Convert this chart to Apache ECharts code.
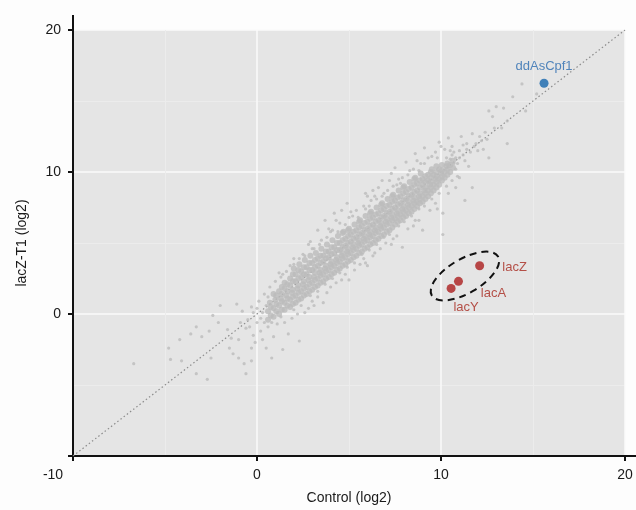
<!DOCTYPE html>
<html>
<head>
<meta charset="utf-8">
<script src="https://cdn.jsdelivr.net/npm/echarts@6/dist/echarts.min.js"></script>
<style>
html, body { margin: 0; padding: 0; background: #fdfdfd; }
#chart { width: 636px; height: 510px; }
</style>
</head>
<body>
<div id="chart"></div>
<script>
// axis range shared by both axes (log2 expression)
var axisMin = -10;
var axisMax = 20;

// dense core of the gene cloud
var coreGenes = [
    [0.6,-0.4],[0.6,0.2],[0.7,0.8],
    [0.9,-0.2],[0.9,0.4],[1.0,1.0],[0.9,1.4],
    [1.2,0.0],[1.2,0.6],[1.3,1.1],[1.2,1.6],
    [1.5,0.3],[1.5,0.8],[1.6,1.3],[1.5,1.8],[1.5,2.2],
    [1.8,0.5],[1.8,1.0],[1.9,1.5],[1.8,2.0],[1.8,2.5],
    [2.1,0.8],[2.1,1.3],[2.2,1.8],[2.1,2.3],[2.1,2.8],[2.0,3.2],
    [2.4,1.1],[2.4,1.6],[2.5,2.1],[2.4,2.6],[2.4,3.0],[2.3,3.5],
    [2.7,1.4],[2.7,1.9],[2.8,2.4],[2.7,2.8],[2.7,3.3],[2.6,3.8],
    [3.0,1.7],[3.0,2.2],[3.1,2.6],[3.0,3.1],[3.0,3.6],[2.9,4.1],
    [3.3,2.0],[3.3,2.5],[3.4,2.9],[3.3,3.4],[3.3,3.9],[3.2,4.3],
    [3.6,2.3],[3.6,2.8],[3.7,3.2],[3.6,3.7],[3.6,4.1],[3.5,4.6],
    [3.9,2.6],[3.9,3.1],[4.0,3.5],[3.9,4.0],[3.9,4.4],[3.8,4.9],
    [4.2,2.9],[4.2,3.4],[4.3,3.8],[4.2,4.3],[4.2,4.7],[4.1,5.2],
    [4.5,3.2],[4.5,3.7],[4.6,4.1],[4.5,4.5],[4.5,5.0],[4.4,5.5],
    [4.8,3.5],[4.8,4.0],[4.9,4.4],[4.8,4.8],[4.8,5.3],[4.7,5.8],
    [5.1,3.8],[5.1,4.3],[5.2,4.7],[5.1,5.1],[5.1,5.6],[5.0,6.0],
    [5.4,4.1],[5.4,4.6],[5.5,5.0],[5.4,5.4],[5.4,5.9],[5.3,6.3],
    [5.7,4.4],[5.7,4.9],[5.8,5.3],[5.7,5.7],[5.7,6.2],[5.6,6.6],
    [6.0,4.7],[6.0,5.2],[6.1,5.6],[6.0,6.0],[6.0,6.5],[5.9,6.9],
    [6.3,5.0],[6.3,5.5],[6.4,5.9],[6.3,6.3],[6.3,6.8],[6.2,7.2],
    [6.6,5.3],[6.6,5.8],[6.7,6.2],[6.6,6.6],[6.6,7.1],[6.5,7.5],
    [6.9,5.6],[6.9,6.1],[7.0,6.5],[6.9,6.9],[6.9,7.4],[6.8,7.8],
    [7.2,5.9],[7.2,6.4],[7.3,6.8],[7.2,7.2],[7.2,7.7],[7.1,8.1],
    [7.5,6.3],[7.5,6.7],[7.6,7.1],[7.5,7.5],[7.5,8.0],[7.4,8.4],
    [7.8,6.6],[7.8,7.0],[7.9,7.4],[7.8,7.8],[7.8,8.3],[7.7,8.7],
    [8.1,6.9],[8.1,7.3],[8.2,7.7],[8.1,8.1],[8.1,8.6],[8.0,9.0],
    [8.4,7.2],[8.4,7.6],[8.5,8.0],[8.4,8.4],[8.4,8.9],[8.3,9.3],
    [8.7,7.6],[8.7,7.9],[8.8,8.3],[8.7,8.7],[8.7,9.2],[8.6,9.6],
    [9.0,7.9],[9.0,8.3],[9.1,8.7],[9.0,9.1],[9.0,9.5],[8.9,9.9],
    [9.3,8.3],[9.3,8.7],[9.4,9.1],[9.3,9.4],[9.3,9.8],
    [9.6,8.7],[9.6,9.1],[9.7,9.5],[9.6,9.8],[9.5,10.2],
    [9.9,9.1],[9.9,9.5],[10.0,9.9],[9.9,10.2],
    [10.2,9.6],[10.2,10.0],[10.3,10.4],
    [10.5,10.0],[10.5,10.5],
    [0.75,-0.1],[0.75,0.5],
    [1.05,0.2],[1.05,0.7],[1.05,1.3],
    [1.35,0.3],[1.35,0.9],[1.35,1.4],[1.35,1.9],
    [1.65,0.6],[1.65,1.1],[1.65,1.6],[1.65,2.1],
    [1.95,0.7],[1.95,1.2],[1.95,1.7],[1.95,2.3],[1.95,2.8],
    [2.25,1.0],[2.25,1.5],[2.25,2.0],[2.25,2.5],[2.25,3.1],
    [2.55,1.3],[2.55,1.8],[2.55,2.3],[2.55,2.8],[2.55,3.3],
    [2.85,1.6],[2.85,2.1],[2.85,2.6],[2.85,3.1],[2.85,3.6],
    [3.15,1.9],[3.15,2.4],[3.15,2.9],[3.15,3.3],[3.15,3.8],
    [3.45,2.2],[3.45,2.7],[3.45,3.1],[3.45,3.6],[3.45,4.1],
    [3.75,2.5],[3.75,3.0],[3.75,3.4],[3.75,3.9],[3.75,4.4],
    [4.05,2.8],[4.05,3.3],[4.05,3.7],[4.05,4.2],[4.05,4.7],
    [4.35,3.1],[4.35,3.6],[4.35,4.0],[4.35,4.5],[4.35,5.0],
    [4.65,3.4],[4.65,3.9],[4.65,4.3],[4.65,4.7],[4.65,5.2],[4.65,5.7],
    [4.95,3.7],[4.95,4.2],[4.95,4.6],[4.95,5.0],[4.95,5.5],[4.95,5.9],
    [5.25,4.0],[5.25,4.5],[5.25,4.9],[5.25,5.3],[5.25,5.8],
    [5.55,4.3],[5.55,4.8],[5.55,5.2],[5.55,5.6],[5.55,6.1],[5.55,6.5],
    [5.85,4.6],[5.85,5.1],[5.85,5.5],[5.85,5.9],[5.85,6.4],
    [6.15,4.9],[6.15,5.4],[6.15,5.8],[6.15,6.2],[6.15,6.7],[6.15,7.1],
    [6.45,5.2],[6.45,5.7],[6.45,6.1],[6.45,6.5],[6.45,7.0],
    [6.75,5.5],[6.75,6.0],[6.75,6.4],[6.75,6.8],[6.75,7.3],[6.75,7.7],
    [7.05,5.8],[7.05,6.3],[7.05,6.7],[7.05,7.1],[7.05,7.6],
    [7.35,6.1],[7.35,6.6],[7.35,7.0],[7.35,7.4],[7.35,7.9],[7.35,8.3],
    [7.65,6.5],[7.65,6.9],[7.65,7.3],[7.65,7.7],[7.65,8.2],
    [7.95,6.8],[7.95,7.2],[7.95,7.6],[7.95,8.0],[7.95,8.5],[7.95,8.9],
    [8.25,7.1],[8.25,7.5],[8.25,7.9],[8.25,8.3],[8.25,8.8],
    [8.55,7.4],[8.55,7.8],[8.55,8.2],[8.55,8.6],[8.55,9.1],[8.55,9.5],
    [8.85,7.8],[8.85,8.1],[8.85,8.5],[8.85,8.9],[8.85,9.4],
    [9.15,8.1],[9.15,8.5],[9.15,8.9],[9.15,9.3],[9.15,9.7],
    [9.45,8.5],[9.45,8.9],[9.45,9.3],[9.45,9.6],[9.45,10.0],
    [9.75,8.9],[9.75,9.3],[9.75,9.7],[9.75,10.0],[9.75,10.4],
    [10.05,9.4],[10.05,9.7],[10.05,10.1],[10.05,10.5],
    [10.35,9.8],[10.35,10.2],[10.35,10.6],
    [10.65,10.3],[10.65,10.8]
];

// scattered genes around the core
var otherGenes = [
    [-6.7,-3.5],[-4.8,-2.4],[-4.2,-1.8],[-4.7,-3.2],[-4.1,-3.3],[-3.3,-0.9],[-3.6,-1.4],
    [-3.0,-1.6],[-2.6,-1.2],[-2.5,-3.1],[-2.7,-4.6],[-3.3,-4.2],[-2.4,-0.1],[-2.0,0.6],
    [-2.1,-0.6],[-1.6,-1.1],[-1.5,-2.4],[-1.3,-2.8],[-1.0,-3.1],[-0.7,-3.5],[-0.6,-4.2],
    [-0.3,-3.3],[-1.4,-1.7],[-1.0,-1.8],[-1.1,0.7],[-0.6,-1.0],[-0.3,-2.4],[-0.1,-2.0],
    [0.5,-2.4],[0.8,-3.1],[1.4,-2.5],[1.7,-1.4],[2.3,-1.9],
    [-0.8,0.2],[-0.5,-0.4],[-0.3,0.5],[0.0,-0.6],[0.1,0.9],[0.2,-1.2],[0.3,0.1],[0.4,1.4],
    [0.6,-0.9],[0.7,1.9],[0.9,-1.6],[1.0,2.3],[1.1,-0.7],[1.3,2.6],[1.5,-0.6],[1.6,3.0],
    [1.9,-0.3],[2.0,3.5],[-0.9,-0.6],[-0.2,-1.5],[0.3,-1.8],
    [-0.4,-0.9],[0.0,0.4],[0.2,-0.3],[0.5,0.6],[0.8,-0.6],[1.1,0.1],[0.4,-0.6],[-0.2,0.1],
    [0.6,1.2],[1.3,-0.2],
    [2.5,4.2],[2.8,4.9],[3.3,5.9],[3.7,6.6],[4.2,7.1],[4.9,7.8],[5.9,8.5],[6.6,8.9],
    [6.8,9.4],[7.3,9.9],[7.5,10.3],[8.6,11.3],[3.0,4.6],[3.5,5.2],[4.0,5.8],[4.5,6.4],
    [5.0,6.8],[5.4,7.3],[5.8,7.6],[6.2,8.0],[6.9,8.5],[7.4,9.0],[7.9,9.6],[8.3,10.1],
    [8.9,10.6],[9.3,11.0],[9.7,11.4],[10.0,11.8],[1.2,2.9],[2.0,3.9],[4.6,7.3],[6.3,8.7],
    [8.1,10.7],[9.1,11.7],
    [1.4,2.8],[1.8,3.4],[2.3,3.9],[2.6,4.1],[3.1,4.6],[3.4,4.9],[3.8,5.4],[4.1,5.9],
    [4.4,5.8],[4.8,6.3],[5.2,6.9],[5.5,6.8],[5.9,7.4],[6.1,7.6],[6.5,8.1],[6.8,8.3],
    [7.1,8.7],[7.6,9.1],[7.8,9.2],[8.2,9.8],[8.5,10.2],[8.8,10.1],[9.1,10.6],[9.5,11.1],
    [9.8,11.0],[10.2,11.6],[10.5,11.5],[2.9,5.1],[3.9,6.0],[5.1,7.2],[6.4,8.3],[7.7,9.5],
    [8.7,10.8],[9.9,12.1],[4.3,6.6],[6.0,8.3],[7.2,9.4],
    [2.8,0.4],[3.3,1.2],[3.8,1.5],[4.3,2.2],[4.8,2.8],[5.3,3.1],[5.8,3.9],[6.4,4.3],
    [7.0,5.0],[7.6,5.5],[7.9,4.7],[8.2,6.0],[8.8,6.6],[9.0,5.9],[9.4,7.3],[10.1,7.1],
    [10.1,5.6],[10.8,8.9],[11.3,8.0],[11.7,8.9],[3.0,0.9],[4.0,1.9],[5.0,2.4],[6.0,3.4],
    [6.7,4.6],[7.3,4.9],[8.5,6.2],[9.7,7.8],[10.4,8.5],[2.2,0.0],[3.6,0.8],[5.6,3.5],
    [2.0,0.3],[2.4,0.6],[2.9,1.3],[3.3,1.6],[3.7,2.1],[4.1,2.5],[4.5,2.9],[4.9,3.3],
    [5.3,3.6],[5.7,4.2],[6.1,4.5],[6.5,4.9],[6.9,5.4],[7.2,5.6],[7.7,6.2],[8.0,6.5],
    [8.4,6.9],[8.8,7.4],[9.1,7.6],[9.5,8.1],[9.9,8.5],[10.3,9.0],[10.6,9.4],[11.0,9.6],
    [3.1,0.6],[4.6,2.4],[5.9,3.6],[7.4,5.3],[8.6,6.6],[9.8,7.4],[2.6,0.1],[6.3,4.1],
    [10.4,12.4],[10.6,11.8],[11.1,12.5],[11.7,12.7],[11.4,12.0],[12.2,12.2],[12.0,11.5],
    [12.6,11.0],[13.6,12.0],[13.3,13.1],[12.9,13.1],[13.6,13.6],[14.6,14.3],[15.2,15.5],
    [13.0,14.6],[12.6,14.3],[13.4,14.5],[12.8,13.9],[13.9,15.3],[14.4,16.2],[10.8,10.2],
    [11.0,11.0],[11.3,10.8],[10.6,11.2],[11.6,11.4],[11.9,12.0],[12.4,12.8],[10.9,9.7],
    [11.5,10.4],[12.3,11.6],[10.3,11.0],[10.7,10.6],
    [10.8,11.0],[11.0,11.5],[10.9,10.6],[11.2,11.9],[10.7,11.4],[11.2,11.2],[11.8,11.8],
    [12.1,12.5],[11.4,11.6],[12.5,12.3],[10.5,10.9]
];

var casName = 'ddAsCpf1';
var casValue = [15.6, 16.25];

var lacNames = ['lacZ', 'lacA', 'lacY'];
var lacControl = [12.1, 10.95, 10.55];
var lacTreated = [3.4, 2.3, 1.8];

var identityLine = [[axisMin, axisMin], [axisMax, axisMax]];
// the two tips of the dashed ellipse around the lac operon genes
var lacEllipseTips = [[9.5, 1.3], [13.1, 4.05]];

var labelOffsets = { lacZ: [35, 2], lacA: [35, 12], lacY: [15, 19] };

var font = '"Liberation Sans", Arial, sans-serif';
var pointGrey = '#bcbcbc';

var chart = echarts.init(document.getElementById('chart'));

function makeAxis(name, gap) {
    return {
        type: 'value',
        min: axisMin,
        max: axisMax,
        interval: 10,
        name: name,
        nameLocation: 'middle',
        nameGap: gap,
        nameTextStyle: { color: '#1a1a1a', fontSize: 14, fontFamily: font },
        axisLine: { show: true, onZero: false, lineStyle: { color: '#111', width: 2 } },
        axisTick: { show: true, length: 5, lineStyle: { color: '#111', width: 2 } },
        axisLabel: { color: '#1a1a1a', fontSize: 14, fontFamily: font, margin: 12 },
        splitLine: { show: true, lineStyle: { color: '#fafafa', width: 1.5 } },
        minorTick: { show: false, splitNumber: 2 },
        minorSplitLine: { show: true, lineStyle: { color: '#ececec', width: 1 } }
    };
}

var xAxis = makeAxis('Control (log2)', 35);
xAxis.axisLabel.formatter = function (v) {
    return v === axisMin ? '{m|' + v + '}' : String(v);
};
xAxis.axisLabel.rich = { m: { fontSize: 14, fontFamily: font, color: '#1a1a1a', padding: [0, 40, 0, 0] } };
var yAxis = makeAxis('lacZ-T1 (log2)', 44);
yAxis.axisLabel.formatter = function (v) {
    return v === axisMin ? '' : String(v);
};

var lacData = lacNames.map(function (n, i) {
    return {
        name: n,
        value: [lacControl[i], lacTreated[i]],
        label: { offset: labelOffsets[n] }
    };
});

var options = {
    animation: false,
    backgroundColor: '#fdfdfd',
    grid: { left: 73, right: 11, top: 30, bottom: 54, show: true, backgroundColor: '#e5e5e5', borderWidth: 0 },
    xAxis: xAxis,
    yAxis: yAxis,
    series: [
        {
            type: 'line',
            data: identityLine,
            symbol: 'none',
            silent: true,
            lineStyle: { color: '#8c8c8c', width: 1.2, type: [1.5, 2.5] },
            z: 1
        },
        {
            type: 'scatter',
            data: coreGenes,
            symbolSize: 6,
            itemStyle: { color: pointGrey },
            z: 2
        },
        {
            type: 'scatter',
            data: otherGenes,
            symbolSize: 3.2,
            itemStyle: { color: pointGrey },
            z: 2
        },
        {
            type: 'scatter',
            data: [{ name: casName, value: casValue }],
            symbolSize: 9,
            itemStyle: { color: '#1666ad' },
            label: {
                show: true,
                position: 'top',
                distance: 6,
                formatter: '{b}',
                color: '#2b6cb0',
                fontSize: 13,
                fontFamily: font
            },
            z: 4
        },
        {
            type: 'scatter',
            data: lacData,
            symbolSize: 9,
            itemStyle: { color: '#ab1e1e' },
            label: {
                show: true,
                position: 'inside',
                formatter: '{b}',
                color: '#a8291f',
                fontSize: 13,
                fontFamily: font
            },
            z: 4
        }
    ]
};
chart.setOption(options);

// dashed ellipse around lacZ / lacA / lacY, plus the axis line overhangs
var p1 = chart.convertToPixel({ gridIndex: 0 }, lacEllipseTips[0]);
var p2 = chart.convertToPixel({ gridIndex: 0 }, lacEllipseTips[1]);
var dx = p2[0] - p1[0], dy = p2[1] - p1[1];
var topLeft = chart.convertToPixel({ gridIndex: 0 }, [axisMin, axisMax]);
var bottomRight = chart.convertToPixel({ gridIndex: 0 }, [axisMax, axisMin]);

chart.setOption({
    graphic: [
        {
            type: 'ellipse',
            x: (p1[0] + p2[0]) / 2,
            y: (p1[1] + p2[1]) / 2,
            rotation: -Math.atan2(dy, dx),
            shape: { cx: 0, cy: 0, rx: Math.sqrt(dx * dx + dy * dy) / 2, ry: 17 },
            style: { fill: 'none', stroke: '#111', lineWidth: 2, lineDash: [7, 5] },
            z: 10
        },
        {
            type: 'line',
            shape: { x1: topLeft[0], y1: topLeft[1], x2: topLeft[0], y2: topLeft[1] - 15 },
            style: { stroke: '#111', lineWidth: 2 },
            z: 10
        },
        {
            type: 'line',
            shape: { x1: bottomRight[0], y1: bottomRight[1], x2: bottomRight[0] + 12, y2: bottomRight[1] },
            style: { stroke: '#111', lineWidth: 2 },
            z: 10
        }
    ]
});

window.onresize = function () {
    chart.resize();
};
</script>
</body>
</html>
